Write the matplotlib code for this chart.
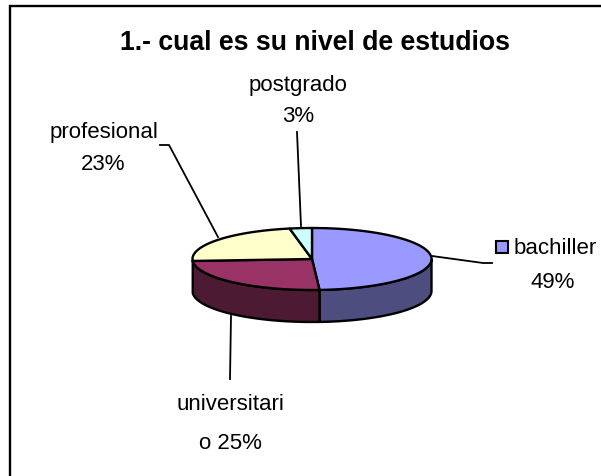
import numpy as np
import matplotlib
matplotlib.use("Agg")
import matplotlib.pyplot as plt

plt.rcParams['font.family'] = ['Liberation Sans', 'DejaVu Sans']

# Pie values, in percent, clockwise from 12 o'clock
values = [49, 25, 23, 3]
top_colors = ['#9999ff', '#993366', '#ffffcc', '#ccffff']
side_colors = ['#4d4d80', '#4d1a33']
title = "1.- cual es su nivel de estudios"

# Pixel layout of the pie
cx, cy = 312, 260
rx, ry = 119.5, 31
depth = 32

def rim(a, b):
    t = np.radians(np.linspace(a, b, 120))
    return cx + rx*np.sin(t), cy - ry*np.cos(t)

fig = plt.figure(figsize=(6.01, 4.77), dpi=100)
ax = fig.add_axes([0, 0, 1, 1])
ax.set_xlim(0, 601)
ax.set_ylim(477, 0)
ax.axis('off')

# Chart border, only left and top are in the picture
ax.plot([9.5, 9.5, 601], [477, 6.5, 6.5], color='black', lw=1.7, solid_joinstyle='miter')

# Angles of the slices
edges = np.cumsum([0] + values)*3.6

# Side wall, only the front half of the rim shows
for i in range(2):
    a = max(edges[i], 90)
    b = min(edges[i+1], 270)
    x, y = rim(a, b)
    ax.fill(np.r_[x, x[::-1]], np.r_[y, y[::-1] + depth], facecolor=side_colors[i],
            edgecolor='black', lw=1.7, joinstyle='round')

# Top of the pie
for i in range(len(values)):
    x, y = rim(edges[i], edges[i+1])
    ax.fill(np.r_[cx, x], np.r_[cy, y], facecolor=top_colors[i], edgecolor='black',
            lw=1.7, joinstyle='round')

# Leader lines
ax.plot([432, 483, 492], [257, 264, 264], color='black', lw=1.3)
ax.plot([231, 230], [317, 380], color='black', lw=1.3)
ax.plot([218, 169, 160], [238, 146, 146], color='black', lw=1.3)
ax.plot([301, 297], [227, 133], color='black', lw=1.3)

# Texts
ax.text(315, 43.5, title, fontsize=19.2, fontweight='bold', ha='center', va='center')
ax.text(298, 85, "postgrado", fontsize=16, ha='center', va='center')
ax.text(298, 117, "3%", fontsize=16, ha='center', va='center')
ax.text(104, 133, "profesional", fontsize=16, ha='center', va='center')
ax.text(103, 165, "23%", fontsize=16, ha='center', va='center')
ax.text(230, 405, "universitari", fontsize=16, ha='center', va='center')
ax.text(230, 444, "o 25%", fontsize=16, ha='center', va='center')
ax.text(514, 249, "bachiller", fontsize=16, ha='left', va='center')
ax.text(553, 283, "49%", fontsize=16, ha='center', va='center')

# Legend key next to the bachiller label
ax.fill([496, 508, 508, 496], [242, 242, 254, 254], facecolor=top_colors[0], edgecolor='black', lw=1.5)

fig.savefig("out.png", dpi=100)
